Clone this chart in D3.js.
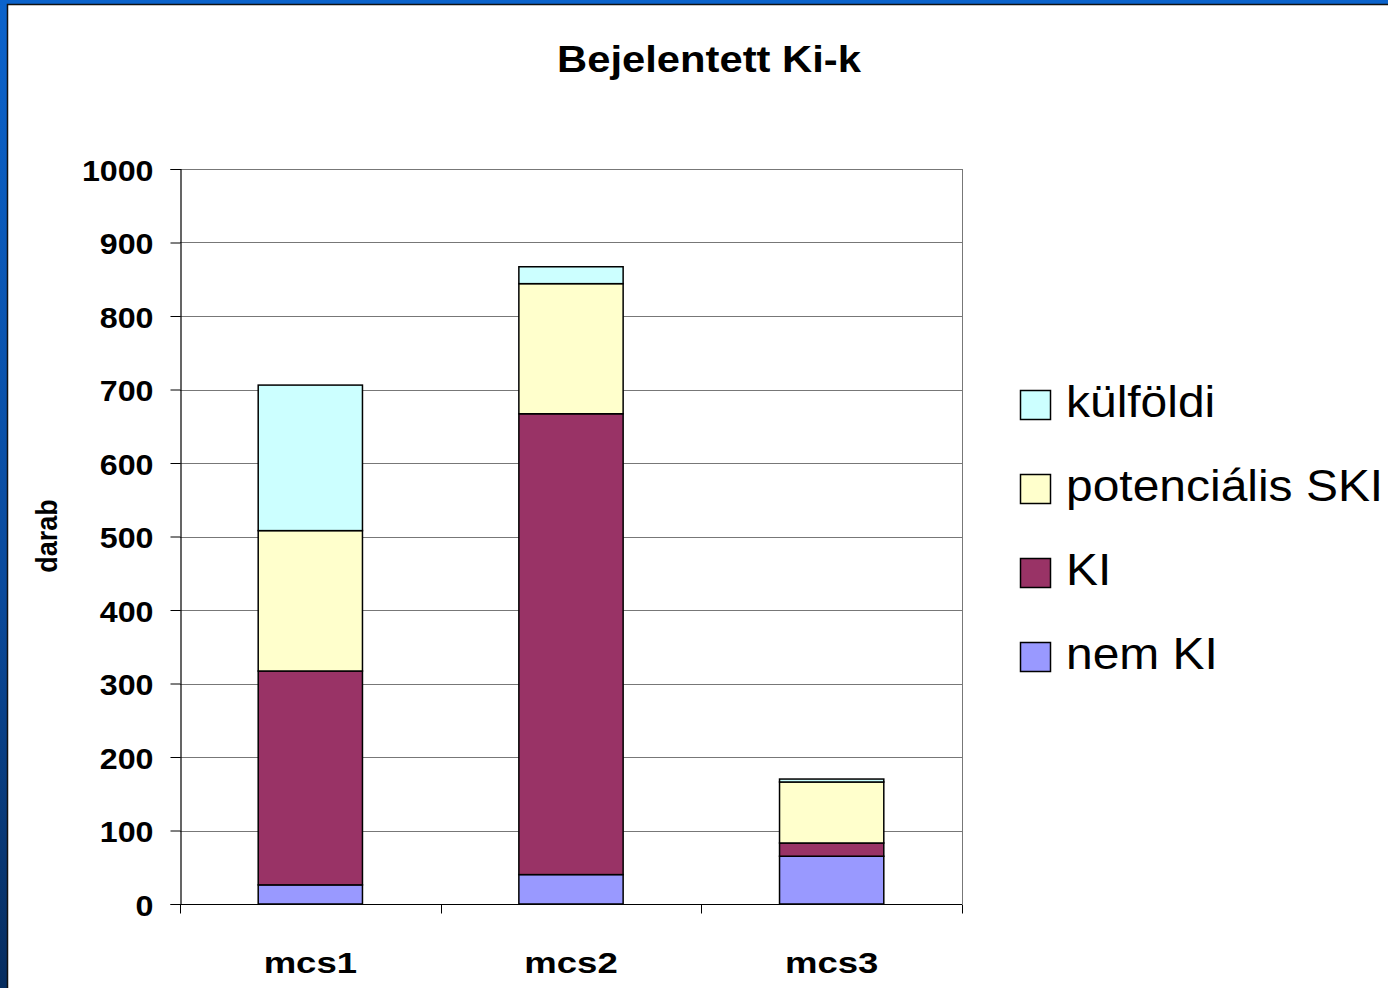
<!DOCTYPE html>
<html><head><meta charset="utf-8">
<script src="https://cdn.jsdelivr.net/npm/d3@7"></script>
<style>html,body{margin:0;padding:0;background:#fff;overflow:hidden}</style>
</head><body>
<script>
const categories = ["mcs1", "mcs2", "mcs3"];
const seriesNames = ["nem KI", "KI", "potenciális SKI", "külföldi"];
const nemKI = [26, 40, 65];
const KI = [291, 627, 18];
const potencialisSKI = [191, 177, 83];
const kulfoldi = [198, 23, 4];
const colors = ["#9999FF", "#993366", "#FFFFCC", "#CCFFFF"];
const yTicks = [0, 100, 200, 300, 400, 500, 600, 700, 800, 900, 1000];
const title = "Bejelentett Ki-k";
const yTitle = "darab";

const W = 1388, H = 988;
const svg = d3.select("body").append("svg").attr("width", W).attr("height", H);

// background frame
const defs = svg.append("defs");
const g = defs.append("linearGradient").attr("id", "bg").attr("x1", 0).attr("y1", 0).attr("x2", 0).attr("y2", 1);
g.append("stop").attr("offset", "0%").attr("stop-color", "#0b63cc");
g.append("stop").attr("offset", "60%").attr("stop-color", "#0a4a9c");
g.append("stop").attr("offset", "100%").attr("stop-color", "#072d5f");
svg.append("rect").attr("width", W).attr("height", H).attr("fill", "url(#bg)");
svg.append("rect").attr("x", 8).attr("y", 5).attr("width", W).attr("height", H).attr("fill", "#fff");
svg.append("path").attr("d", `M7.5,${H} L7.5,4.5 L${W},4.5`).attr("fill", "none").attr("stroke", "#111").attr("stroke-width", 1.5);

const plot = {x0: 180, x1: 962, y0: 169, y1: 904};
const x = d3.scaleBand().domain(categories).range([plot.x0, plot.x1]).paddingInner(0.6).paddingOuter(0.3);
const xb = d3.scaleBand().domain(categories).range([plot.x0, plot.x1]);
const y = d3.scaleLinear().domain([0, 1000]).range([plot.y1, plot.y0]);

// gridlines
svg.append("g").selectAll("line").data(yTicks.slice(1)).join("line")
  .attr("x1", plot.x0).attr("x2", plot.x1)
  .attr("y1", d => Math.round(y(d)) + 0.5).attr("y2", d => Math.round(y(d)) + 0.5)
  .attr("stroke", "#777").attr("stroke-width", 1);
// right border
svg.append("line").attr("x1", plot.x1 + 0.5).attr("x2", plot.x1 + 0.5).attr("y1", plot.y0).attr("y2", plot.y1)
  .attr("stroke", "#777");

// stacked bars
const table = categories.map((c, i) => ({cat: c, "nem KI": nemKI[i], "KI": KI[i], "potenciális SKI": potencialisSKI[i], "külföldi": kulfoldi[i]}));
const stack = d3.stack().keys(seriesNames)(table);
const color = d3.scaleOrdinal().domain(seriesNames).range(colors);
svg.append("g").selectAll("g").data(stack).join("g").attr("fill", d => color(d.key))
  .selectAll("rect").data(d => d).join("rect")
  .attr("x", d => x(d.data.cat)).attr("width", x.bandwidth())
  .attr("y", d => y(d[1])).attr("height", d => y(d[0]) - y(d[1]))
  .attr("stroke", "#000").attr("stroke-width", 1.5);

// y axis
const yAxis = svg.append("g").attr("transform", `translate(${plot.x0 + 0.5},0)`)
  .call(d3.axisLeft(y).tickValues(yTicks).tickSize(10).tickFormat(d3.format("d")));
yAxis.select(".domain").attr("stroke", "#000").attr("stroke-width", 1.2);
yAxis.selectAll(".tick line").attr("stroke", "#000");
yAxis.selectAll(".tick text").remove();
yAxis.selectAll(".tick").append("text")
  .attr("transform", "translate(-27,11) scale(1.11,1)")
  .attr("text-anchor", "end").attr("fill", "#000")
  .style("font-family", "'Liberation Sans', Arial, sans-serif").style("font-weight", "bold").style("font-size", "29px")
  .text(d => d);

// x axis
const xAxis = svg.append("g").attr("transform", `translate(0,${plot.y1 + 0.5})`);
xAxis.append("line").attr("x1", plot.x0).attr("x2", plot.x1).attr("stroke", "#000").attr("stroke-width", 1.2);
const bounds = [plot.x0, ...categories.map(c => xb(c) + xb.bandwidth())];
xAxis.selectAll("line.tk").data(bounds).join("line").attr("class", "tk")
  .attr("x1", d => Math.round(d) + 0.5).attr("x2", d => Math.round(d) + 0.5).attr("y1", 0).attr("y2", 9)
  .attr("stroke", "#000");
xAxis.selectAll("text").data(categories).join("text")
  .attr("transform", d => `translate(${xb(d) + xb.bandwidth() / 2},${972 - plot.y1}) scale(1.26,1)`)
  .attr("text-anchor", "middle").attr("fill", "#000")
  .style("font-family", "'Liberation Sans', Arial, sans-serif").style("font-weight", "bold").style("font-size", "29px")
  .text(d => d);

// title
svg.append("text").attr("transform", "translate(709,72) scale(1.16,1)")
  .attr("text-anchor", "middle")
  .style("font-family", "'Liberation Sans', Arial, sans-serif").style("font-weight", "bold").style("font-size", "36px")
  .text(title);

// y title
svg.append("text").attr("transform", "translate(57,536) rotate(-90) scale(1,1.1)")
  .attr("text-anchor", "middle")
  .style("font-family", "'Liberation Sans', Arial, sans-serif").style("font-weight", "bold").style("font-size", "27px")
  .text(yTitle);

// legend
const legendOrder = seriesNames.slice().reverse();
const lg = svg.append("g").selectAll("g").data(legendOrder).join("g")
  .attr("transform", (d, i) => `translate(1020,${405 + i * 84})`);
lg.append("rect").attr("x", 0.5).attr("y", -14.5).attr("width", 30).attr("height", 29)
  .attr("fill", d => color(d)).attr("stroke", "#000").attr("stroke-width", 1.5);
lg.append("text").attr("transform", "translate(46,12) scale(1.09,1)")
  .style("font-family", "'Liberation Sans', Arial, sans-serif").style("font-size", "44px")
  .text(d => d);
</script>
</body></html>
